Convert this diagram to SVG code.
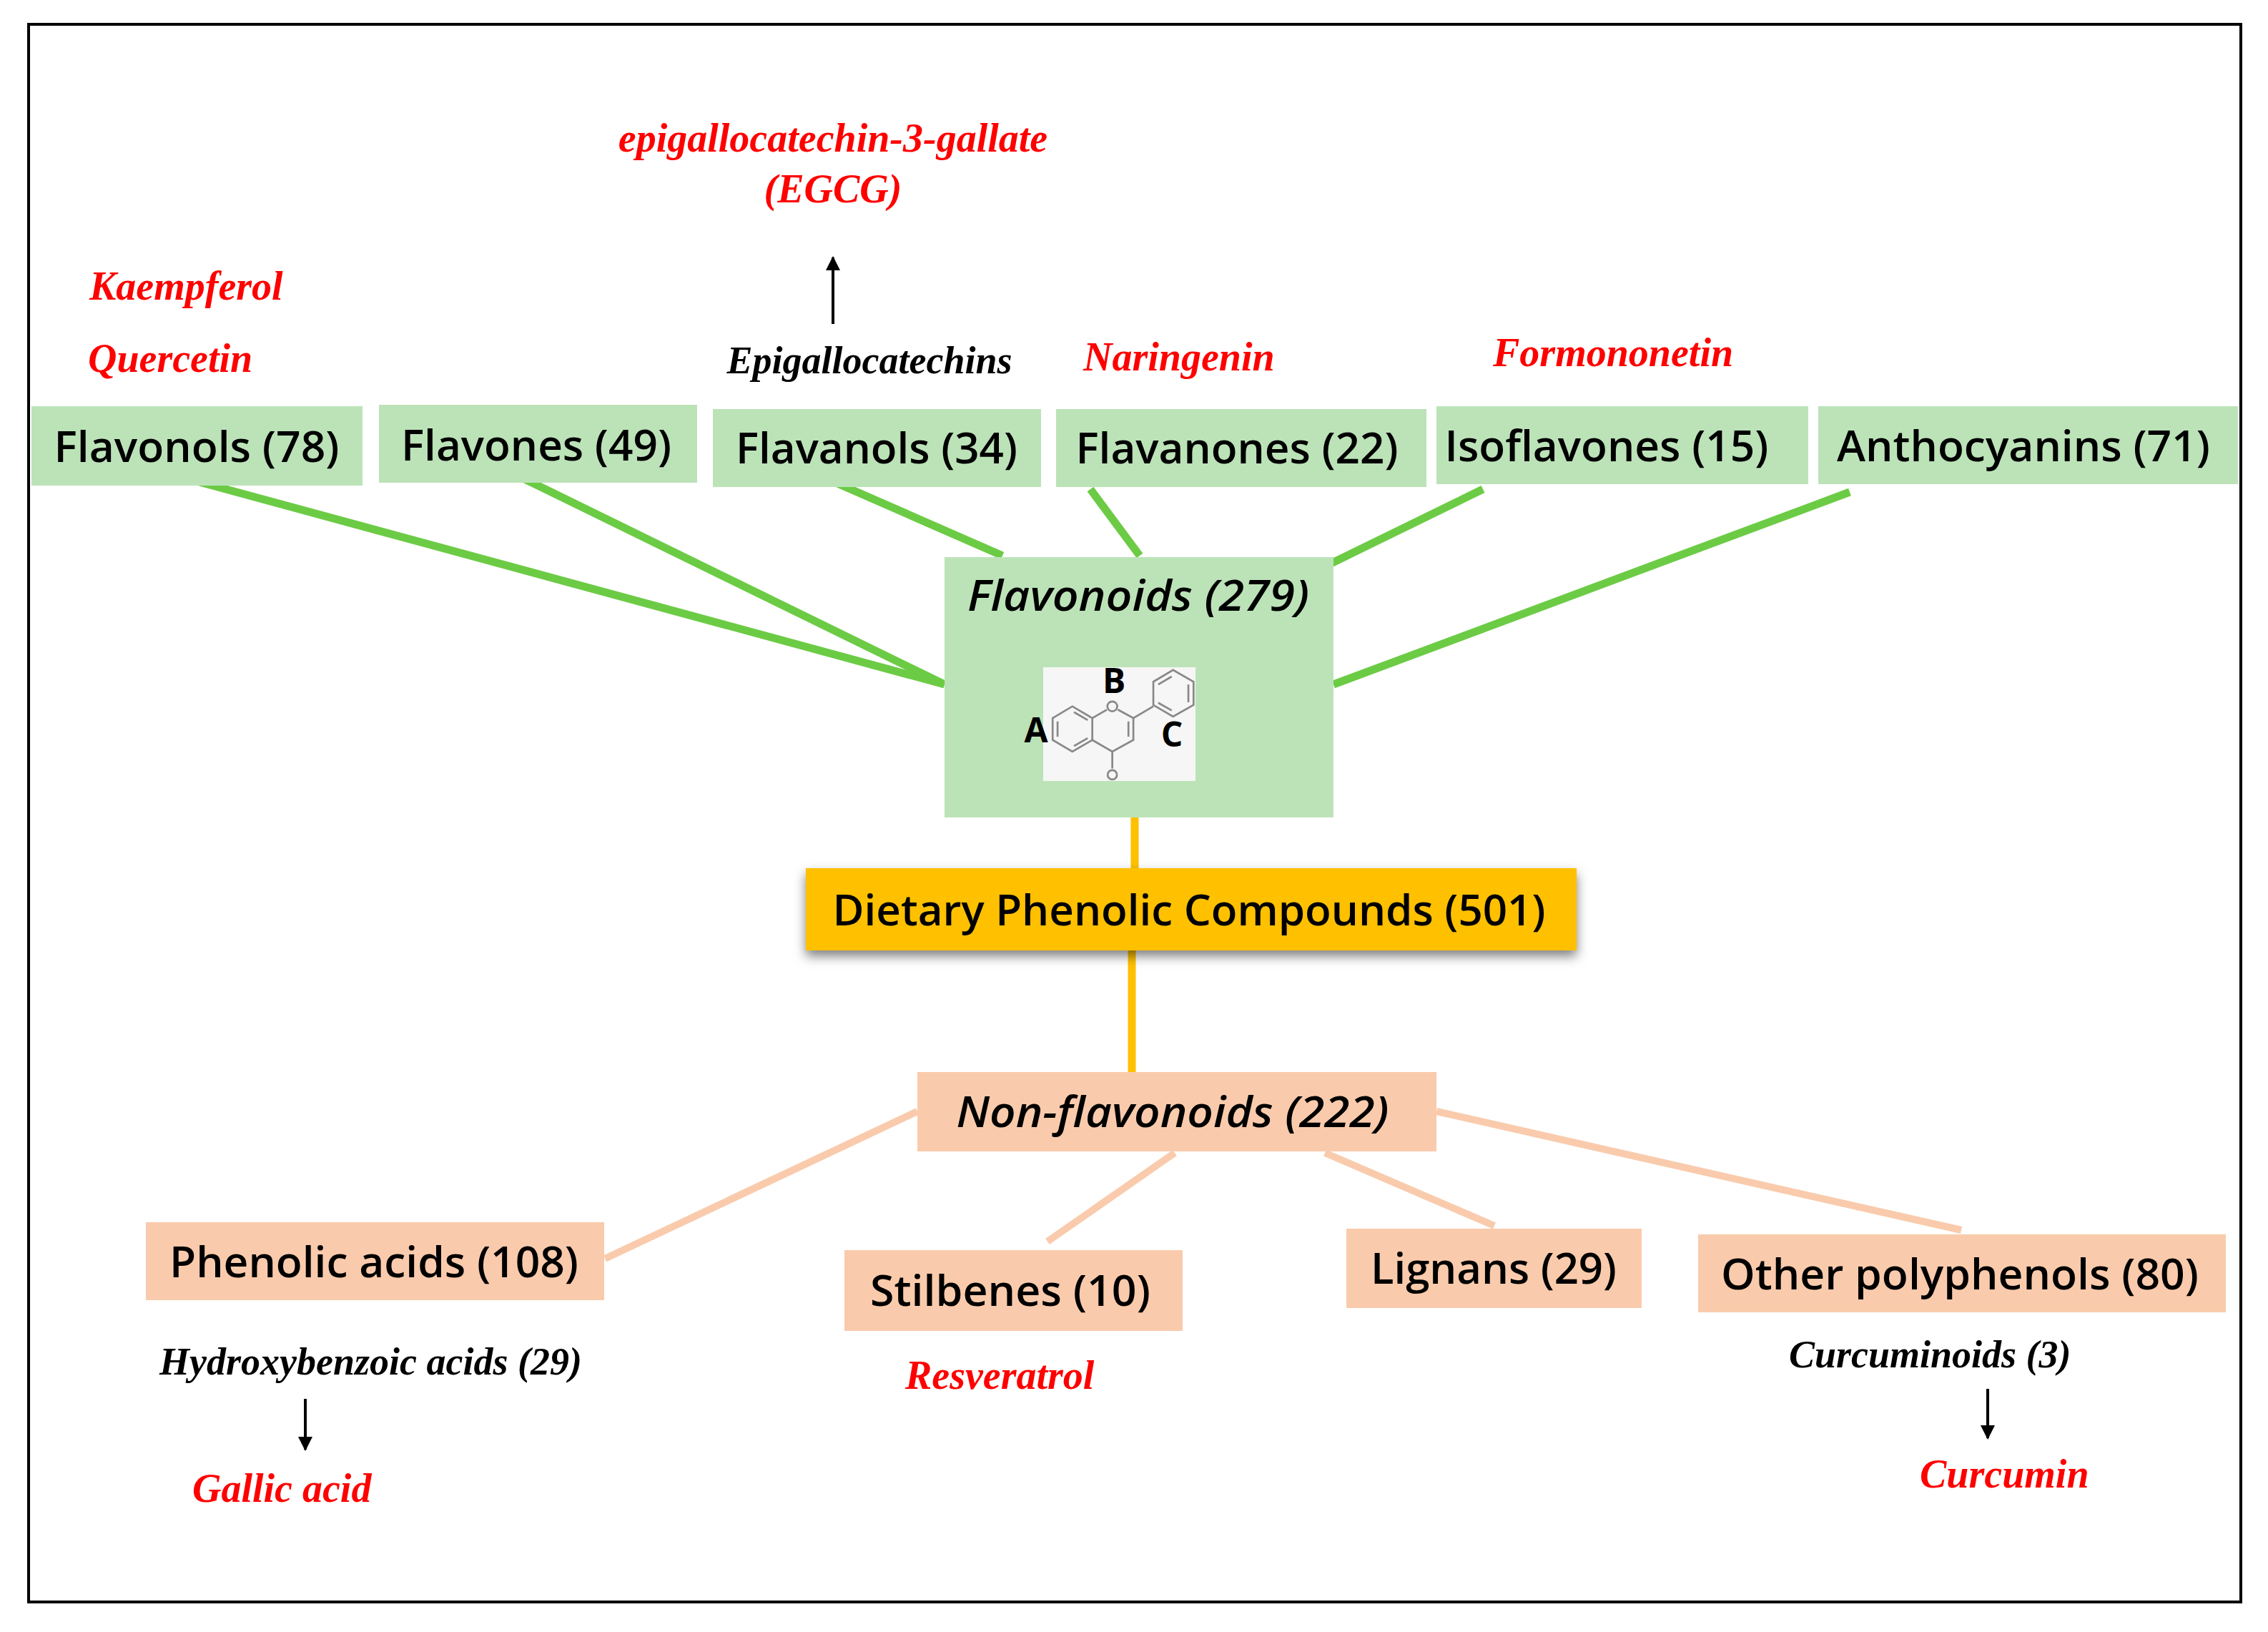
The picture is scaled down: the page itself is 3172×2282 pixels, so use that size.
<svg xmlns="http://www.w3.org/2000/svg" width="3172" height="2282" viewBox="0 0 3172 2282">
<defs>
<style>
.g{fill:#bce3b8}
.p{fill:#f9cbac}
.t{font-family:"Open Sans","Liberation Sans",sans-serif;font-weight:600;font-size:60px;fill:#000;text-anchor:middle}
.ti{font-family:"Open Sans","Liberation Sans",sans-serif;font-weight:600;font-style:italic;font-size:60px;fill:#000;text-anchor:middle}
.r{font-family:"Liberation Serif",serif;font-weight:bold;font-style:italic;font-size:56px;fill:#ff0000}
.k{font-family:"Liberation Serif",serif;font-weight:bold;font-style:italic;font-size:54px;fill:#000}
.gl{stroke:#6ccb45;stroke-width:11;fill:none}
.pl{stroke:#f9cbac;stroke-width:10;fill:none}
.ol{stroke:#ffc000;stroke-width:11;fill:none}
.ar{stroke:#000;stroke-width:4;fill:none;marker-end:url(#ah)}
.ring{stroke:#888;stroke-width:7;fill:none}
</style>
<marker id="ah" viewBox="0 0 10 10" refX="9" refY="5" markerWidth="5" markerHeight="5" orient="auto"><path d="M0,0 L10,5 L0,10 z" fill="#000"/></marker>
<filter id="sh" x="-10%" y="-30%" width="120%" height="170%"><feDropShadow dx="0" dy="8" stdDeviation="8" flood-color="#000" flood-opacity="0.5"/></filter>
</defs>
<rect width="3172" height="2282" fill="#fff"/>
<rect x="40" y="34" width="3094" height="2206" fill="none" stroke="#000" stroke-width="4"/>
<g id="connectors">
<line class="gl" x1="279" y1="674" x2="1321" y2="957"/>
<line class="gl" x1="734" y1="670" x2="1321" y2="957"/>
<line class="gl" x1="1153" y1="668" x2="1402" y2="777"/>
<line class="gl" x1="1525" y1="684" x2="1594" y2="777"/>
<line class="gl" x1="2074" y1="684" x2="1847" y2="795"/>
<line class="gl" x1="2587" y1="688" x2="1865" y2="957"/>
<line class="ol" x1="1587" y1="1092" x2="1587" y2="1214"/>
<line class="ol" x1="1583" y1="1329" x2="1583" y2="1499"/>
<line class="pl" x1="1283" y1="1554" x2="846" y2="1760"/>
<line class="pl" x1="1643" y1="1612" x2="1465" y2="1736"/>
<line class="pl" x1="1853" y1="1612" x2="2090" y2="1714"/>
<line class="pl" x1="2009" y1="1554" x2="2743" y2="1720"/>
<line class="ar" x1="1165" y1="453" x2="1165" y2="360"/>
<line class="ar" x1="427" y1="1956" x2="427" y2="2027"/>
<line class="ar" x1="2780" y1="1942" x2="2780" y2="2011"/>
</g>
<g id="flavonols"><rect class="g" x="44" y="568" width="463" height="111"/><text class="t" x="275" y="646" textLength="399" lengthAdjust="spacingAndGlyphs">Flavonols (78)</text></g>
<g id="flavones"><rect class="g" x="530" y="566" width="445" height="109"/><text class="t" x="750" y="644" textLength="378" lengthAdjust="spacingAndGlyphs">Flavones (49)</text></g>
<g id="flavanols"><rect class="g" x="997" y="572" width="459" height="109"/><text class="t" x="1226" y="648" textLength="394" lengthAdjust="spacingAndGlyphs">Flavanols (34)</text></g>
<g id="flavanones"><rect class="g" x="1477" y="572" width="518" height="109"/><text class="t" x="1730" y="648" textLength="451" lengthAdjust="spacingAndGlyphs">Flavanones (22)</text></g>
<g id="isoflavones"><rect class="g" x="2009" y="568" width="520" height="109"/><text class="t" x="2247" y="645" textLength="453" lengthAdjust="spacingAndGlyphs">Isoflavones (15)</text></g>
<g id="anthocyanins"><rect class="g" x="2543" y="568" width="587" height="109"/><text class="t" x="2830" y="645" textLength="522" lengthAdjust="spacingAndGlyphs">Anthocyanins (71)</text></g>
<g id="flavonoids">
<rect class="g" x="1321" y="779" width="544" height="364"/>
<text class="ti" x="1592" y="854" textLength="478" lengthAdjust="spacingAndGlyphs">Flavonoids  (279)</text>
<rect x="1459" y="933" width="213" height="159" fill="#f6f6f6"/>
<g transform="translate(1300,760) scale(0.3827)">
<polygon class="ring" points="450,638 522,595 595,638 595,718 522,760 450,718"/>
<line class="ring" x1="468" y1="650" x2="468" y2="706"/><line class="ring" x1="528" y1="616" x2="578" y2="645"/><line class="ring" x1="528" y1="740" x2="578" y2="711"/>
<polyline class="ring" points="595,638 648,607"/><polyline class="ring" points="688,607 745,638 745,718 668,760 595,718"/>
<line class="ring" x1="727" y1="650" x2="727" y2="706"/>
<line class="ring" x1="668" y1="760" x2="668" y2="822"/>
<circle class="ring" cx="668" cy="595" r="18"/><circle class="ring" cx="668" cy="845" r="17"/>
<line class="ring" x1="745" y1="638" x2="818" y2="595"/>
<polygon class="ring" points="818,505 890,462 965,505 965,590 890,632 818,590"/>
<line class="ring" x1="836" y1="515" x2="885" y2="486"/><line class="ring" x1="946" y1="515" x2="946" y2="580"/><line class="ring" x1="836" y1="582" x2="885" y2="610"/>
</g>
<text x="1449" y="1038" font-family="Open Sans,Liberation Sans,sans-serif" font-weight="bold" font-size="48" text-anchor="middle">A</text>
<text x="1558" y="969" font-family="Open Sans,Liberation Sans,sans-serif" font-weight="bold" font-size="48" text-anchor="middle">B</text>
<text x="1639" y="1044" font-family="Open Sans,Liberation Sans,sans-serif" font-weight="bold" font-size="48" text-anchor="middle">C</text>
</g>
<g id="dietary"><rect x="1127" y="1214" width="1078" height="115" fill="#ffc000" filter="url(#sh)"/><text class="t" x="1663" y="1294" textLength="997" lengthAdjust="spacingAndGlyphs">Dietary Phenolic Compounds (501)</text></g>
<g id="nonflavonoids"><rect class="p" x="1283" y="1499" width="726" height="111"/><text class="ti" x="1640" y="1576" textLength="605" lengthAdjust="spacingAndGlyphs">Non-flavonoids  (222)</text></g>
<g id="phenolic"><rect class="p" x="204" y="1709" width="641" height="109"/><text class="t" x="523" y="1786" textLength="572" lengthAdjust="spacingAndGlyphs">Phenolic acids (108)</text></g>
<g id="stilbenes"><rect class="p" x="1181" y="1748" width="473" height="113"/><text class="t" x="1413" y="1826" textLength="392" lengthAdjust="spacingAndGlyphs">Stilbenes (10)</text></g>
<g id="lignans"><rect class="p" x="1883" y="1718" width="413" height="111"/><text class="t" x="2089" y="1795" textLength="344" lengthAdjust="spacingAndGlyphs">Lignans (29)</text></g>
<g id="other"><rect class="p" x="2375" y="1726" width="738" height="109"/><text class="t" x="2741" y="1803" textLength="668" lengthAdjust="spacingAndGlyphs">Other polyphenols (80)</text></g>
<g id="labels">
<text class="r" x="1165" y="212" text-anchor="middle">epigallocatechin-3-gallate</text>
<text class="r" x="1165" y="283" text-anchor="middle">(EGCG)</text>
<text class="k" x="1216" y="522" text-anchor="middle">Epigallocatechins</text>
<text class="r" x="125" y="419">Kaempferol</text>
<text class="r" x="123" y="520">Quercetin</text>
<text class="r" x="1515" y="518">Naringenin</text>
<text class="r" x="2088" y="512">Formononetin</text>
<text class="k" x="223" y="1922">Hydroxybenzoic acids (29)</text>
<text class="r" x="269" y="2100">Gallic acid</text>
<text class="r" x="1266" y="1942">Resveratrol</text>
<text class="k" x="2502" y="1912">Curcuminoids (3)</text>
<text class="r" x="2685" y="2080">Curcumin</text>
</g>
</svg>
